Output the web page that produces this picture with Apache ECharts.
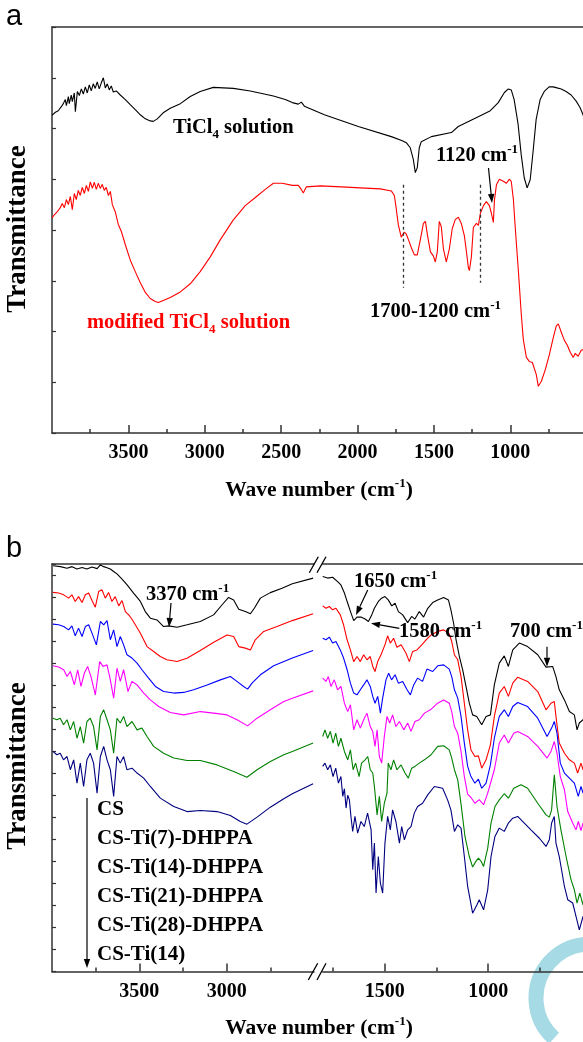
<!DOCTYPE html>
<html>
<head>
<meta charset="utf-8">
<script src="https://cdn.jsdelivr.net/npm/echarts@6/dist/echarts.min.js"></script>
<style>html,body{margin:0;padding:0;background:#fff}#c{width:583px;height:1042px}</style>
</head>
<body>
<div id="c"></div>
<script>
// ---------------- DATA (wavenumber cm-1, transmittance a.u.) ----------------
const aTicksMajor = [3500, 3000, 2500, 2000, 1500, 1000];
const aTicksMinor = [3750, 3250, 2750, 2250, 1750, 1250, 750];
const bLeftMajor = [3500, 3000];
const bLeftMinor = [3750, 3250, 2750];
const bRightMajor = [1500, 1000];
const bRightMinor = [1750, 1250, 750];
const dashMarks = [1700, 1200];

const aTiCl4 = [[4000,62.6],[3978,63.2],[3959,63.5],[3939,64.3],[3926,64.9],[3913,65.7],[3906,64.5],[3893,66.3],[3887,64.9],[3874,66.6],[3867,65.3],[3854,67.0],[3847,63.3],[3834,67.3],[3821,66.5],[3808,67.8],[3795,66.8],[3782,68.2],[3769,67.0],[3756,68.6],[3743,67.4],[3730,68.8],[3717,67.9],[3704,69.2],[3691,67.8],[3677,69.0],[3664,70.0],[3651,68.0],[3638,68.8],[3625,67.6],[3612,68.4],[3599,67.2],[3579,67.4],[3553,66.6],[3520,65.7],[3488,64.7],[3455,63.7],[3422,62.7],[3389,61.9],[3357,61.5],[3337,61.4],[3311,61.9],[3272,63.1],[3226,64.0],[3160,64.9],[3095,66.3],[3030,67.3],[2944,68.1],[2813,67.9],[2702,67.4],[2551,66.4],[2473,65.7],[2427,65.1],[2388,64.8],[2368,65.2],[2348,64.4],[2217,62.7],[1995,60.4],[1779,58.4],[1707,57.6],[1681,57.2],[1655,56.2],[1635,53.9],[1622,51.3],[1609,52.3],[1596,56.2],[1583,57.4],[1517,58.4],[1386,59.2],[1341,60.4],[1210,62.3],[1131,63.5],[1079,65.1],[1039,67.1],[1013,67.8],[994,67.6],[975,65.7],[949,60.8],[929,54.9],[909,50.3],[890,48.3],[870,49.9],[850,55.8],[831,61.8],[805,65.7],[778,67.3],[746,68.2],[720,68.2],[694,68.0],[667,67.8],[635,67.3],[602,66.6],[569,65.4],[543,64.1],[524,62.7],[504,60.8]];

const aModified = [[4000,42.4],[3985,43.0],[3965,43.6],[3946,44.4],[3933,45.2],[3919,44.4],[3906,46.0],[3893,45.0],[3880,46.6],[3867,44.0],[3854,47.2],[3841,46.0],[3828,47.8],[3815,46.8],[3802,48.4],[3788,47.2],[3775,48.8],[3762,47.6],[3749,49.5],[3736,48.2],[3723,49.4],[3710,48.0],[3697,49.2],[3684,48.2],[3671,49.0],[3658,47.8],[3645,48.4],[3631,46.8],[3618,47.6],[3605,45.0],[3586,43.6],[3566,41.1],[3546,39.7],[3520,37.1],[3488,34.1],[3455,31.8],[3422,29.6],[3389,27.7],[3357,26.5],[3324,25.9],[3304,25.7],[3272,26.1],[3226,26.7],[3160,27.8],[3095,29.4],[3030,31.8],[2964,34.7],[2898,38.1],[2813,42.0],[2735,44.8],[2669,46.4],[2604,48.0],[2551,49.2],[2492,49.2],[2427,48.8],[2388,48.8],[2368,48.0],[2355,47.3],[2335,48.5],[2243,48.7],[2106,48.5],[1982,48.3],[1851,48.1],[1779,47.7],[1759,46.8],[1746,44.0],[1733,41.0],[1714,38.6],[1694,39.6],[1681,39.2],[1661,37.6],[1648,36.5],[1628,35.1],[1609,35.1],[1589,38.1],[1569,41.3],[1556,41.7],[1543,39.1],[1523,35.7],[1504,34.9],[1491,33.7],[1478,35.7],[1465,41.7],[1452,40.7],[1438,36.3],[1419,33.7],[1399,36.3],[1380,40.3],[1360,42.1],[1340,42.5],[1321,41.3],[1301,38.9],[1288,35.9],[1275,32.6],[1268,32.0],[1255,34.7],[1242,40.5],[1222,41.3],[1209,40.9],[1196,43.3],[1176,44.8],[1157,45.6],[1137,44.8],[1124,43.3],[1111,41.5],[1104,45.9],[1091,48.9],[1072,50.0],[1046,49.6],[1026,49.2],[1007,50.0],[994,49.6],[980,46.0],[967,40.1],[948,32.2],[928,23.3],[915,18.4],[895,14.9],[876,14.1],[856,13.9],[843,14.1],[830,11.5],[817,9.2],[797,10.2],[771,12.5],[745,15.4],[719,18.8],[699,21.1],[686,21.5],[667,19.9],[647,18.3],[627,17.3],[608,15.9],[588,14.9],[575,15.7],[556,15.1],[536,16.3],[524,16.5],[504,16.7]];

// Panel b, high-wavenumber segment (4000-2500)
const bCS_L = [[3994,184.2],[3952,183.8],[3914,183.1],[3885,183.8],[3857,182.7],[3828,183.4],[3800,182.7],[3771,183.6],[3742,182.9],[3723,184.6],[3704,183.8],[3685,183.3],[3666,182.7],[3647,181.6],[3628,180.5],[3599,178.1],[3570,175.5],[3533,171.8],[3494,168.0],[3466,163.4],[3437,160.4],[3399,159.6],[3361,156.6],[3332,156.9],[3284,156.3],[3227,157.4],[3151,158.9],[3075,161.9],[3026,166.5],[2989,169.8],[2960,168.7],[2931,164.5],[2893,163.4],[2864,162.4],[2841,165.0],[2807,169.5],[2750,172.0],[2683,174.0],[2624,176.0],[2505,178.6]];
const bTi7_L = [[3995,172.1],[3962,171.8],[3933,171.0],[3905,169.5],[3886,171.0],[3867,168.0],[3848,170.2],[3828,167.5],[3809,171.0],[3790,171.8],[3771,168.4],[3752,165.4],[3733,172.5],[3714,173.3],[3695,169.5],[3676,172.1],[3657,168.0],[3638,170.2],[3618,166.0],[3599,168.4],[3580,163.4],[3561,161.9],[3542,159.9],[3523,157.4],[3494,153.6],[3456,147.5],[3418,145.3],[3380,143.0],[3342,141.5],[3284,140.7],[3227,142.2],[3151,145.7],[3074,149.5],[2998,152.8],[2960,152.1],[2931,147.5],[2893,146.8],[2864,146.0],[2836,150.6],[2788,154.4],[2712,156.6],[2624,159.3],[2505,162.4]];
const bTi14_L = [[3995,157.7],[3962,157.4],[3933,156.6],[3905,155.1],[3886,156.9],[3867,152.4],[3848,155.9],[3828,152.1],[3809,156.6],[3790,157.4],[3771,153.6],[3746,148.3],[3723,158.9],[3704,157.4],[3685,159.3],[3666,150.6],[3647,155.1],[3628,147.5],[3609,152.1],[3590,148.3],[3571,143.8],[3542,142.3],[3513,140.0],[3485,137.0],[3447,133.2],[3408,129.4],[3361,127.1],[3303,126.4],[3246,126.7],[3189,127.9],[3112,130.1],[3036,132.4],[2979,133.9],[2941,131.7],[2903,129.4],[2880,128.2],[2855,130.9],[2807,134.7],[2731,138.8],[2624,142.3],[2505,145.7]];
const bTi21_L = [[3995,138.8],[3962,138.2],[3933,137.0],[3914,133.9],[3895,136.2],[3872,130.1],[3853,136.9],[3834,129.4],[3815,135.4],[3796,138.5],[3777,133.9],[3752,125.6],[3727,140.7],[3708,138.5],[3685,139.2],[3666,132.4],[3647,124.1],[3628,137.7],[3609,131.7],[3590,137.0],[3565,127.1],[3542,131.7],[3513,130.1],[3475,126.4],[3437,123.3],[3389,120.3],[3323,117.6],[3246,116.5],[3151,118.0],[3074,117.3],[2998,116.5],[2941,114.3],[2880,111.5],[2826,115.0],[2750,118.8],[2673,122.6],[2624,124.1],[2505,127.4]];
const bTi28_L = [[3995,115.0],[3972,114.3],[3953,115.0],[3934,112.0],[3914,114.3],[3895,109.7],[3876,113.5],[3857,105.9],[3838,111.2],[3819,103.7],[3800,113.5],[3781,115.0],[3762,111.2],[3742,100.6],[3723,115.8],[3704,118.8],[3685,114.3],[3666,109.7],[3647,99.1],[3628,115.0],[3609,112.8],[3590,115.8],[3571,111.2],[3542,113.5],[3513,109.7],[3485,110.5],[3456,106.7],[3418,102.2],[3361,99.1],[3303,96.9],[3227,95.8],[3151,95.8],[3055,93.8],[2960,90.8],[2884,88.2],[2826,91.6],[2750,95.3],[2673,98.4],[2624,99.9],[2505,103.7]];
const bCSTi14_L = [[3995,99.9],[3972,98.4],[3953,99.1],[3934,96.1],[3914,97.6],[3895,91.6],[3876,96.1],[3857,85.5],[3838,94.6],[3819,84.0],[3800,96.1],[3781,99.1],[3762,94.6],[3742,81.0],[3723,97.6],[3704,102.2],[3685,96.1],[3666,91.6],[3647,79.5],[3628,97.6],[3609,94.6],[3590,97.6],[3571,91.6],[3542,92.3],[3513,90.1],[3475,87.8],[3437,84.0],[3380,78.7],[3303,74.9],[3227,72.6],[3151,73.1],[3055,72.6],[2979,70.8],[2922,68.1],[2884,66.9],[2826,70.1],[2750,74.6],[2673,78.4],[2624,80.7],[2505,85.2]];

// Panel b, low-wavenumber segment (1800-400)
const bCS_R = [[1800,179.3],[1776,178.6],[1752,179.0],[1728,177.0],[1712,175.5],[1695,171.8],[1679,167.2],[1663,162.7],[1650,159.3],[1634,160.9],[1615,160.9],[1595,160.0],[1579,158.9],[1563,161.9],[1550,164.9],[1531,168.0],[1515,169.5],[1499,170.2],[1483,168.7],[1466,166.0],[1450,167.2],[1434,163.4],[1413,161.9],[1389,158.4],[1370,161.2],[1354,160.0],[1333,163.4],[1312,160.9],[1292,164.9],[1268,167.5],[1244,168.7],[1215,169.8],[1192,168.7],[1180,164.2],[1167,158.1],[1155,150.6],[1139,143.0],[1123,136.9],[1107,129.4],[1091,121.8],[1075,116.5],[1055,115.8],[1046,116.5],[1031,112.0],[1010,115.8],[989,116.5],[970,130.1],[946,140.0],[922,143.3],[902,138.5],[881,146.0],[849,149.1],[809,147.5],[760,143.8],[720,138.2],[688,138.5],[672,133.9],[656,127.9],[631,123.3],[607,118.0],[583,116.5],[570,109.7],[559,112.8],[541,114.3],[519,115.8]];
const bTi7_R = [[1800,166.0],[1784,164.9],[1768,165.7],[1752,164.2],[1736,164.9],[1715,161.9],[1699,157.4],[1682,150.6],[1666,146.0],[1650,140.7],[1634,143.0],[1618,140.7],[1602,143.8],[1586,141.5],[1570,143.0],[1558,138.5],[1547,136.2],[1534,140.7],[1518,143.8],[1499,148.3],[1486,152.4],[1473,149.1],[1457,151.3],[1441,147.2],[1421,148.3],[1397,144.5],[1381,140.7],[1365,145.3],[1344,146.0],[1321,148.3],[1300,150.6],[1276,152.8],[1244,154.4],[1215,155.1],[1188,153.3],[1176,149.8],[1163,143.8],[1147,141.5],[1131,133.9],[1115,121.8],[1099,109.7],[1083,100.6],[1064,97.6],[1047,97.9],[1031,92.3],[1010,96.1],[989,102.9],[970,115.8],[946,126.4],[922,129.4],[902,124.9],[881,130.9],[857,133.6],[809,131.7],[760,127.1],[720,118.8],[696,121.8],[680,122.6],[672,115.8],[656,103.7],[631,99.1],[607,96.1],[583,94.6],[567,90.1],[551,94.6],[541,91.6],[520,93.0]];
const bTi14_R = [[1800,151.3],[1784,150.6],[1768,151.8],[1752,149.1],[1736,149.8],[1715,146.0],[1699,142.3],[1682,137.0],[1666,130.9],[1650,126.4],[1634,125.6],[1618,127.9],[1602,130.1],[1586,132.4],[1570,129.4],[1558,124.9],[1547,121.8],[1534,124.9],[1521,117.3],[1510,124.1],[1494,132.4],[1481,135.4],[1467,132.4],[1450,134.7],[1434,130.9],[1413,131.7],[1392,127.9],[1376,125.6],[1360,130.1],[1341,133.2],[1317,131.7],[1296,137.3],[1268,136.2],[1244,138.8],[1215,139.2],[1188,137.3],[1176,133.9],[1163,127.9],[1147,124.1],[1131,115.8],[1115,103.7],[1099,93.1],[1083,88.5],[1064,85.5],[1047,87.3],[1031,83.2],[1010,85.5],[989,93.8],[970,105.9],[946,115.8],[922,118.8],[902,115.8],[881,120.3],[857,122.1],[809,120.3],[760,115.0],[715,106.7],[693,110.5],[680,113.5],[667,108.2],[651,94.6],[631,90.1],[607,87.8],[583,85.5],[564,79.5],[551,84.0],[541,81.0],[520,82.0]];
const bTi21_R = [[1800,133.2],[1784,131.7],[1773,133.9],[1760,129.4],[1744,132.4],[1728,127.9],[1712,129.4],[1695,121.8],[1679,118.0],[1666,121.1],[1650,109.7],[1634,114.3],[1618,110.5],[1602,114.3],[1586,117.3],[1570,111.2],[1558,109.0],[1547,102.2],[1537,109.7],[1526,97.6],[1515,94.6],[1502,106.7],[1489,115.8],[1476,112.8],[1462,116.5],[1446,111.2],[1429,113.5],[1408,109.7],[1389,112.8],[1373,109.0],[1354,113.5],[1333,114.3],[1308,117.3],[1279,118.8],[1244,121.8],[1215,123.3],[1188,121.8],[1176,118.0],[1163,111.2],[1147,108.2],[1131,99.9],[1115,88.5],[1099,80.5],[1083,79.0],[1064,76.4],[1043,78.0],[1022,75.7],[1002,81.0],[970,91.6],[946,103.7],[922,107.4],[902,103.7],[876,108.2],[857,109.0],[809,106.7],[760,102.2],[715,96.9],[696,99.9],[680,104.4],[667,99.1],[651,88.5],[631,82.5],[615,72.6],[591,67.4],[575,64.3],[564,68.1],[551,64.0],[541,67.4],[520,66.0]];
const bTi28_R = [[1800,106.7],[1789,109.7],[1776,105.9],[1763,109.0],[1750,103.7],[1737,108.2],[1724,102.2],[1712,105.9],[1695,99.9],[1679,96.1],[1666,100.6],[1653,91.6],[1641,94.6],[1624,88.5],[1612,94.6],[1595,96.1],[1582,97.6],[1570,91.6],[1558,90.1],[1550,84.0],[1537,71.1],[1526,79.5],[1515,68.1],[1502,76.4],[1489,81.0],[1483,94.6],[1470,91.6],[1457,96.1],[1441,91.6],[1421,93.8],[1402,90.1],[1386,87.8],[1370,92.3],[1354,93.1],[1333,94.6],[1308,96.1],[1276,98.4],[1244,102.2],[1215,102.5],[1188,100.6],[1176,96.9],[1163,91.6],[1147,87.0],[1131,76.0],[1112,61.3],[1091,52.2],[1075,47.4],[1059,50.0],[1047,51.5],[1034,50.0],[1022,47.7],[1002,56.0],[986,67.4],[967,74.9],[946,77.9],[922,80.7],[902,78.7],[876,83.2],[841,84.8],[809,83.2],[760,76.4],[720,71.1],[704,70.1],[693,73.4],[680,89.3],[667,74.9],[648,64.3],[623,52.2],[599,41.6],[583,37.1],[570,31.0],[557,35.6],[541,30.3],[520,31.0]];
const bCSTi14_R = [[1800,93.1],[1789,94.6],[1776,91.6],[1763,93.8],[1750,88.5],[1737,92.3],[1724,85.5],[1712,88.5],[1703,79.5],[1695,83.0],[1687,74.2],[1679,80.0],[1671,78.0],[1663,70.0],[1655,63.6],[1644,70.4],[1631,62.8],[1615,68.1],[1599,65.8],[1583,71.9],[1566,64.3],[1558,46.2],[1550,58.3],[1542,35.6],[1531,52.2],[1521,40.1],[1510,35.6],[1499,58.3],[1486,70.4],[1473,64.3],[1462,73.4],[1446,68.1],[1429,58.3],[1418,65.8],[1405,59.8],[1389,64.3],[1373,65.8],[1357,71.9],[1341,74.9],[1317,76.4],[1292,80.2],[1260,84.0],[1220,83.2],[1196,77.9],[1180,73.4],[1163,63.6],[1147,66.6],[1131,65.1],[1115,52.2],[1099,38.6],[1075,26.5],[1054,30.3],[1043,32.6],[1022,28.0],[1002,37.1],[986,52.2],[967,61.3],[946,65.1],[922,63.6],[902,67.4],[881,69.6],[857,70.4],[825,67.4],[793,64.3],[752,60.5],[720,56.8],[704,59.8],[693,67.4],[680,70.4],[672,58.3],[656,52.2],[631,38.6],[615,32.6],[591,31.1],[575,25.0],[559,18.9],[541,25.0],[520,24.0]];

const legendNames = ['CS', 'CS-Ti(7)-DHPPA', 'CS-Ti(14)-DHPPA', 'CS-Ti(21)-DHPPA', 'CS-Ti(28)-DHPPA', 'CS-Ti(14)'];
const bColors = ['#000000', '#ff0000', '#0000ff', '#ff00ff', '#008000', '#000080'];
const bLeft = [bCS_L, bTi7_L, bTi14_L, bTi21_L, bTi28_L, bCSTi14_L];
const bRight = [bCS_R, bTi7_R, bTi14_R, bTi21_R, bTi28_R, bCSTi14_R];

// ---------------- STYLE / LAYOUT ----------------
const SERIF = 'Liberation Serif';
const AX = '#333';
const G = [
  {left: 52, top: 27, width: 550, height: 406},
  {left: 52, top: 564, width: 262, height: 407.5},
  {left: 322.7, top: 564, width: 289.5, height: 407.5}
];
function mk(size, color, extra) {
  return Object.assign({fontFamily: SERIF, fontWeight: 'bold', fontSize: size, fill: color}, extra || {});
}
const rich = {
  n: mk(20.5, '#000', {lineHeight: 26}),
  r: mk(20.5, '#ff0000', {lineHeight: 26}),
  L: mk(21, '#000', {lineHeight: 26}),
  W: mk(21.5, '#000', {lineHeight: 26}),
  s: mk(13, '#000', {lineHeight: 13, verticalAlign: 'top'}),
  d: mk(13, '#000', {lineHeight: 13, verticalAlign: 'bottom'}),
  dr: mk(13, '#ff0000', {lineHeight: 13, verticalAlign: 'bottom'})
};
const plain = v => String(v);

function mainX(gi, min, max, major) {
  return {type: 'value', gridIndex: gi, inverse: true, min: min, max: max, position: 'bottom',
    axisLine: {show: true, onZero: false, lineStyle: {color: AX, width: 1.5}},
    axisTick: {show: true, inside: true, length: 8, customValues: major, lineStyle: {color: AX, width: 1.5}},
    axisLabel: {show: true, customValues: major, formatter: plain, margin: 10, color: '#000', fontFamily: SERIF, fontWeight: 'bold', fontSize: 20},
    splitLine: {show: false}};
}
function minorX(gi, min, max, minor) {
  return {type: 'value', gridIndex: gi, inverse: true, min: min, max: max, position: 'bottom',
    axisLine: {show: false, onZero: false},
    axisTick: {show: true, inside: true, length: 4, customValues: minor, lineStyle: {color: AX, width: 1.5}},
    axisLabel: {show: false}, splitLine: {show: false}};
}
function topX(gi, min, max) {
  return {type: 'value', gridIndex: gi, inverse: true, min: min, max: max, position: 'top',
    axisLine: {show: true, onZero: false, lineStyle: {color: AX, width: 1.5}},
    axisTick: {show: false}, axisLabel: {show: false}, splitLine: {show: false}};
}
function yAx(gi, max, show) {
  return {type: 'value', gridIndex: gi, min: 0, max: max, interval: 10,
    axisLine: {show: show, onZero: false, lineStyle: {color: AX, width: 1.5}},
    axisTick: {show: show, inside: true, length: 4, lineStyle: {color: AX, width: 1.2}},
    axisLabel: {show: false}, splitLine: {show: false}};
}

const series = [
  {type: 'line', xAxisIndex: 0, yAxisIndex: 0, data: aTiCl4, showSymbol: false, lineStyle: {color: '#000', width: 1.1}, itemStyle: {color: '#000'}},
  {type: 'line', xAxisIndex: 0, yAxisIndex: 0, data: aModified, showSymbol: false, lineStyle: {color: '#ff0000', width: 1.1}, itemStyle: {color: '#ff0000'},
    markLine: {silent: true, symbol: 'none', label: {show: false}, animation: false,
      lineStyle: {type: [3, 3], color: '#333', width: 1.3},
      data: [
        [{coord: [dashMarks[0], 48.9]}, {coord: [dashMarks[0], 28.6]}],
        [{coord: [dashMarks[1], 48.9]}, {coord: [dashMarks[1], 29.6]}]
      ]}}
];
bLeft.forEach((d, i) => series.push({type: 'line', name: legendNames[i], xAxisIndex: 3, yAxisIndex: 1, data: d, showSymbol: false, lineStyle: {color: bColors[i], width: 1.1}, itemStyle: {color: bColors[i]}}));
bRight.forEach((d, i) => series.push({type: 'line', name: legendNames[i], xAxisIndex: 6, yAxisIndex: 2, data: d, showSymbol: false, lineStyle: {color: bColors[i], width: 1.1}, itemStyle: {color: bColors[i]}}));

function txt(x, y, text, align) {
  return {type: 'text', x: x, y: y, z: 10,
    style: {text: text, rich: rich, textAlign: align || 'left', textVerticalAlign: 'middle'}};
}
function arrow(x1, y1, x2, y2) {
  const dx = x2 - x1, dy = y2 - y1, L = Math.hypot(dx, dy), ux = dx / L, uy = dy / L;
  const hl = 9, hw = 3.2, bx = x2 - ux * hl, by = y2 - uy * hl;
  return [
    {type: 'line', z: 10, shape: {x1: x1, y1: y1, x2: bx, y2: by}, style: {stroke: '#000', lineWidth: 1.2}},
    {type: 'polygon', z: 10, shape: {points: [[x2, y2], [bx - uy * hw, by + ux * hw], [bx + uy * hw, by - ux * hw]]}, style: {fill: '#000'}}
  ];
}
function slash(x1, y1, x2, y2) {
  return {type: 'line', z: 10, shape: {x1: x1, y1: y1, x2: x2, y2: y2}, style: {stroke: '#000', lineWidth: 1.3}};
}

const graphic = [
  {type: 'arc', z: 0, shape: {cx: 590, cy: 998, r: 54, startAngle: 2.3, endAngle: 4.62, clockwise: true}, style: {stroke: '#a6dae4', lineWidth: 15, fill: null}},
  {type: 'text', x: 6, y: 2, z: 10, style: {text: 'a', font: '29px "Liberation Sans"', fill: '#000', textVerticalAlign: 'top'}},
  {type: 'text', x: 6, y: 534, z: 10, style: {text: 'b', font: '29px "Liberation Sans"', fill: '#000', textVerticalAlign: 'top'}},
  {type: 'text', x: 18, y: 229, rotation: Math.PI / 2, z: 10, style: {text: 'Transmittance', font: 'bold 27px "Liberation Serif"', fill: '#000', textAlign: 'center', textVerticalAlign: 'middle'}},
  {type: 'text', x: 18, y: 766, rotation: Math.PI / 2, z: 10, style: {text: 'Transmittance', font: 'bold 27px "Liberation Serif"', fill: '#000', textAlign: 'center', textVerticalAlign: 'middle'}},
  txt(319, 490, '{W|Wave number (cm}{s|-1}{W|)}', 'center'),
  txt(319, 1028, '{W|Wave number (cm}{s|-1}{W|)}', 'center'),
  txt(173, 128, '{n|TiCl}{d|4}{n| solution}'),
  txt(87, 323, '{r|modified TiCl}{dr|4}{r| solution}'),
  txt(436, 156, '{n|1120 cm}{s|-1}'),
  txt(370, 312, '{n|1700-1200 cm}{s|-1}'),
  txt(146, 595, '{n|3370 cm}{s|-1}'),
  txt(354, 582, '{n|1650 cm}{s|-1}'),
  txt(399, 632, '{n|1580 cm}{s|-1}'),
  txt(510, 632, '{n|700 cm}{s|-1}'),
  slash(309.3, 572.7, 318.3, 556.7), slash(317, 572.7, 326, 556.7),
  slash(308.3, 980, 317.7, 963.3), slash(317, 980, 326, 963.3)
].concat(
  arrow(488.5, 168, 492, 203),
  arrow(171, 603, 169, 627),
  arrow(367.7, 590, 356, 615),
  arrow(399.3, 628.3, 371, 623.3),
  arrow(547, 646.7, 547, 666.7),
  arrow(87, 798, 87, 968)
);
legendNames.forEach((nm, i) => graphic.push(txt(97, 810 + i * 29, '{L|' + nm + '}')));

const chart = echarts.init(document.getElementById('c'), null, {renderer: 'canvas'});
chart.setOption({
  animation: false,
  backgroundColor: '#fff',
  grid: G.map(g => Object.assign({containLabel: false, outerBoundsMode: 'none'}, g)),
  xAxis: [
    mainX(0, 400, 4000, aTicksMajor), minorX(0, 400, 4000, aTicksMinor), topX(0, 400, 4000),
    mainX(1, 2500, 4000, bLeftMajor), minorX(1, 2500, 4000, bLeftMinor), topX(1, 2500, 4000),
    mainX(2, 400, 1800, bRightMajor), minorX(2, 400, 1800, bRightMinor), topX(2, 400, 1800)
  ],
  yAxis: [yAx(0, 80, true), yAx(1, 185, true), yAx(2, 185, false)],
  series: series,
  graphic: graphic
});
</script>
</body>
</html>
